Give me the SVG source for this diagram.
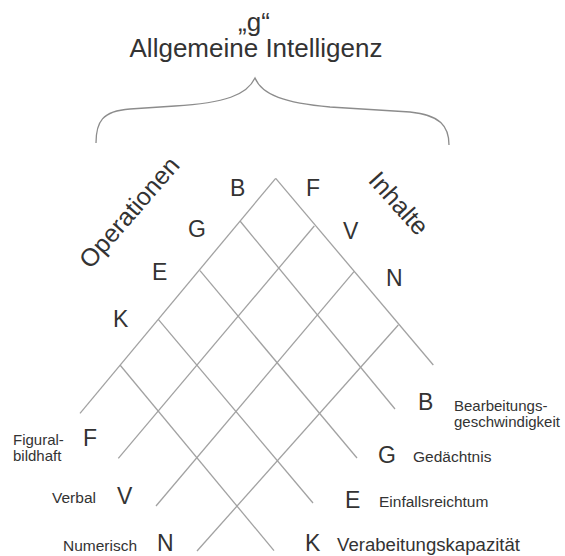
<svg xmlns="http://www.w3.org/2000/svg" width="565" height="556" viewBox="0 0 565 556">
<style>
text{font-family:"Liberation Sans",Arial,sans-serif;fill:#333}
.title{font-size:26px;text-anchor:middle}
.axis{font-size:25px;text-anchor:middle}
.big{font-size:23px}
.small{font-size:15.5px}
.two{font-size:15px}
.grid line{stroke:#a2a2a2;stroke-width:1.3;fill:none}
.brace{stroke:#8c8c8c;stroke-width:1.3;fill:none}
</style>
<rect width="565" height="556" fill="#fff"/>
<g id="title">
<text class="title" x="254" y="31">„g“</text>
<text class="title" x="256" y="57">Allgemeine Intelligenz</text>
</g>
<path class="brace" d="M96,143 C96,122 102,111 130,109 L175,106 C225,103 247,95 255,78 C262,95 285,103 330,107 L410,112 C440,115 449,126 449,145"/>
<g id="axes">
<text class="axis" x="135.7" y="218" transform="rotate(-49 135.7 218)">Operationen</text>
<text class="axis" x="392.4" y="209" transform="rotate(48 392.4 209)">Inhalte</text>
</g>
<g id="grid" class="grid">
<line x1="275.7" y1="178.3" x2="433.3" y2="365"/>
<line x1="240" y1="221" x2="395" y2="409"/>
<line x1="200" y1="270.7" x2="357" y2="458"/>
<line x1="158.3" y1="319.3" x2="313" y2="503"/>
<line x1="120" y1="365" x2="274" y2="550.7"/>
<line x1="275.7" y1="178.3" x2="80" y2="413.3"/>
<line x1="314.3" y1="226" x2="118.3" y2="458.3"/>
<line x1="354" y1="271.7" x2="156" y2="506"/>
<line x1="398.3" y1="325" x2="197" y2="551"/>
</g>
<g id="operationen-labels">
<text class="big" x="230" y="196">B</text>
<text class="big" x="188" y="237">G</text>
<text class="big" x="152" y="280">E</text>
<text class="big" x="113" y="327">K</text>
</g>
<g id="inhalte-labels">
<text class="big" x="306" y="196">F</text>
<text class="big" x="343" y="239">V</text>
<text class="big" x="386" y="286">N</text>
</g>
<g id="inhalte-legend">
<text class="two" x="13" y="445">Figural-</text>
<text class="two" x="13" y="461">bildhaft</text>
<text class="big" x="83" y="446">F</text>
<text class="small" x="52" y="503">Verbal</text>
<text class="big" x="117" y="504">V</text>
<text class="small" x="63" y="551">Numerisch</text>
<text class="big" x="157" y="551">N</text>
</g>
<g id="operationen-legend">
<text class="big" x="418" y="410">B</text>
<text class="two" x="454" y="411">Bearbeitungs-</text>
<text class="two" x="454" y="427">geschwindigkeit</text>
<text class="big" x="378" y="463">G</text>
<text class="small" x="413" y="462">Gedächtnis</text>
<text class="big" x="345" y="508">E</text>
<text class="small" x="379" y="507">Einfallsreichtum</text>
<text class="big" x="305" y="551">K</text>
<text class="small" x="337" y="551" style="font-size:17.5px" textLength="183" lengthAdjust="spacingAndGlyphs">Verabeitungskapazität</text>
</g>
</svg>
